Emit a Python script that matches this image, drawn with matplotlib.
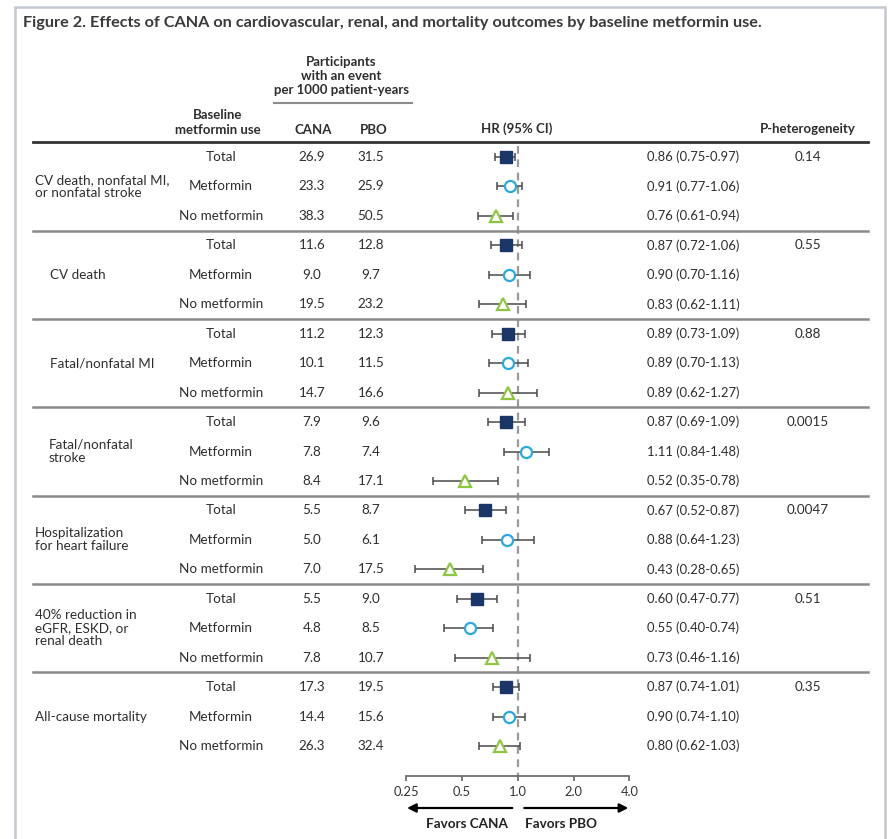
import numpy as np
import matplotlib
matplotlib.use("Agg")
import matplotlib.pyplot as plt
from matplotlib.patches import Rectangle

# data
outcomes = [
    "CV death, nonfatal MI,\nor nonfatal stroke",
    "CV death",
    "Fatal/nonfatal MI",
    "Fatal/nonfatal\nstroke",
    "Hospitalization\nfor heart failure",
    "40% reduction in\neGFR, ESKD, or\nrenal death",
    "All-cause mortality",
]
subgroups = ["Total", "Metformin", "No metformin"]
cana = [26.9, 23.3, 38.3, 11.6, 9.0, 19.5, 11.2, 10.1, 14.7, 7.9, 7.8, 8.4,
        5.5, 5.0, 7.0, 5.5, 4.8, 7.8, 17.3, 14.4, 26.3]
pbo = [31.5, 25.9, 50.5, 12.8, 9.7, 23.2, 12.3, 11.5, 16.6, 9.6, 7.4, 17.1,
       8.7, 6.1, 17.5, 9.0, 8.5, 10.7, 19.5, 15.6, 32.4]
hr = [0.86, 0.91, 0.76, 0.87, 0.90, 0.83, 0.89, 0.89, 0.89, 0.87, 1.11, 0.52,
      0.67, 0.88, 0.43, 0.60, 0.55, 0.73, 0.87, 0.90, 0.80]
hr_lo = [0.75, 0.77, 0.61, 0.72, 0.70, 0.62, 0.73, 0.70, 0.62, 0.69, 0.84, 0.35,
         0.52, 0.64, 0.28, 0.47, 0.40, 0.46, 0.74, 0.74, 0.62]
hr_hi = [0.97, 1.06, 0.94, 1.06, 1.16, 1.11, 1.09, 1.13, 1.27, 1.09, 1.48, 0.78,
         0.87, 1.23, 0.65, 0.77, 0.74, 1.16, 1.01, 1.10, 1.03]
p_het = ["0.14", "0.55", "0.88", "0.0015", "0.0047", "0.51", "0.35"]
xticks = [0.25, 0.5, 1.0, 2.0, 4.0]
xtick_labels = ["0.25", "0.5", "1.0", "2.0", "4.0"]

W, H = 893, 839
BODY = ["Lato", "DejaVu Sans"]
TXT = "#2e2e2e"

fig = plt.figure(figsize=(W / 100, H / 100), dpi=100)
fig.patch.set_facecolor("white")
ax = fig.add_axes([0, 0, 1, 1])
ax.axis("off")

# x: log2 scale, 0.25 at px 406 and 4.0 at px 629
px_oct = (629.3 - 406) / 4
x_one = 517.7
ax.set_xscale("log", base=2)
ax.set_xlim(2 ** (-x_one / px_oct), 2 ** ((W - x_one) / px_oct))
# y: one unit per row, first row at px 157
row0, dr = 157, 29.45
ax.set_ylim((H - row0) / dr, -row0 / dr)


def r_of(py):
    return (py - row0) / dr


def ftext(px, py, s, **kw):
    kw.setdefault("family", BODY)
    kw.setdefault("color", TXT)
    fig.text(px / W, 1 - py / H, s, **kw)


yt = ax.get_yaxis_transform()  # x in axes fraction, y in rows

# frame
fig.patches.append(Rectangle((15 / W, -0.05), 870 / W, 1.05 - 7 / H,
                             transform=fig.transFigure, fill=False,
                             edgecolor="#c3c7cf", lw=1.8))

# title
ftext(23, 23, "Figure 2. Effects of CANA on cardiovascular, renal, and mortality "
      "outcomes by baseline metformin use.", fontsize=11.7,
      fontweight="bold", color="#3a3a3a", va="center")

# column headers
hdr = dict(fontsize=9.5, fontweight="bold", ha="center", va="center")
ftext(341, 62, "Participants", **hdr)
ftext(341, 76, "with an event", **hdr)
ftext(341, 90, "per 1000 patient-years", **hdr)
ftext(218, 115, "Baseline", **hdr)
ftext(218, 130, "metformin use", **hdr)
ftext(313, 130, "CANA", **hdr)
ftext(374, 130, "PBO", **hdr)
ftext(517, 129, "HR (95% CI)", **hdr)
ftext(808, 129, "P-heterogeneity", **hdr)
fig.add_artist(plt.Line2D([274 / W, 412 / W], [1 - 103 / H] * 2,
                          color="#8c8c8c", lw=1.5))

# rules
ax.axhline(r_of(142), xmin=33 / W, xmax=868 / W, color="#333333", lw=2)
for g in range(1, len(outcomes)):
    ax.axhline(3 * g - 0.5, xmin=33 / W, xmax=868 / W, color="#8a8a8a", lw=1.8)

# table text
label_x = [35, 50, 50, 49, 35, 35, 35]
body = dict(fontsize=9.7, family=BODY, color=TXT, va="center", transform=yt)
for g, name in enumerate(outcomes):
    ax.text(label_x[g] / W, 3 * g + 1, name, ha="left", linespacing=1.12, **body)
    ax.text(808 / W, 3 * g, p_het[g], ha="center", **body)
for i in range(len(hr)):
    ax.text(221 / W, i, subgroups[i % 3], ha="center", **body)
    ax.text(312 / W, i, f"{cana[i]:.1f}", ha="center", **body)
    ax.text(371 / W, i, f"{pbo[i]:.1f}", ha="center", **body)
    ax.text(647 / W, i, f"{hr[i]:.2f} ({hr_lo[i]:.2f}-{hr_hi[i]:.2f})",
            ha="left", **{**body, "fontsize": 9.4})

# reference line at HR = 1
ya = r_of(776)
ax.plot([1, 1], [r_of(146), ya], color="#9a9a9a", lw=1.6, ls=(0, (3.5, 2.5)),
        zorder=1)

# forest marks
rows = np.arange(len(hr))
hr_a, lo_a, hi_a = np.array(hr), np.array(hr_lo), np.array(hr_hi)
ax.errorbar(hr_a, rows, xerr=[hr_a - lo_a, hi_a - hr_a], fmt="none",
            ecolor="#4a4a4a", elinewidth=1.1, capsize=3, capthick=1.1, zorder=2)
styles = [dict(marker="s", ms=8, mfc="#1a3668", mec="#1a3668", mew=1),
          dict(marker="o", ms=8, mfc="white", mec="#29a9e1", mew=1.6),
          dict(marker="^", ms=8.5, mfc="white", mec="#8dc63f", mew=1.6)]
for k in range(3):
    ax.plot(hr_a[k::3], rows[k::3], ls="none", zorder=3, **styles[k])

# x axis
ax.plot([xticks[0], xticks[-1]], [ya, ya], color="#707070", lw=1.3)
ax.vlines(xticks, ya, ya + 5 / dr, color="#707070", lw=1.3)
for t, lab in zip(xticks, xtick_labels):
    ax.text(t, r_of(792), lab, ha="center", va="center", fontsize=9.3,
            family=BODY, color="#333333")

ya2 = r_of(808)
arrow = dict(arrowstyle="-|>", color="black", lw=1.6, mutation_scale=13,
             shrinkA=0, shrinkB=0)
ax.annotate("", xy=(0.253, ya2), xytext=(0.935, ya2), arrowprops=arrow)
ax.annotate("", xy=(3.95, ya2), xytext=(1.085, ya2), arrowprops=arrow)
ftext(467, 824, "Favors CANA", fontsize=9.7, fontweight="bold", ha="center",
      va="center", color="#222222")
ftext(561, 824, "Favors PBO", fontsize=9.7, fontweight="bold", ha="center",
      va="center", color="#222222")

fig.savefig("out.png", dpi=100)
